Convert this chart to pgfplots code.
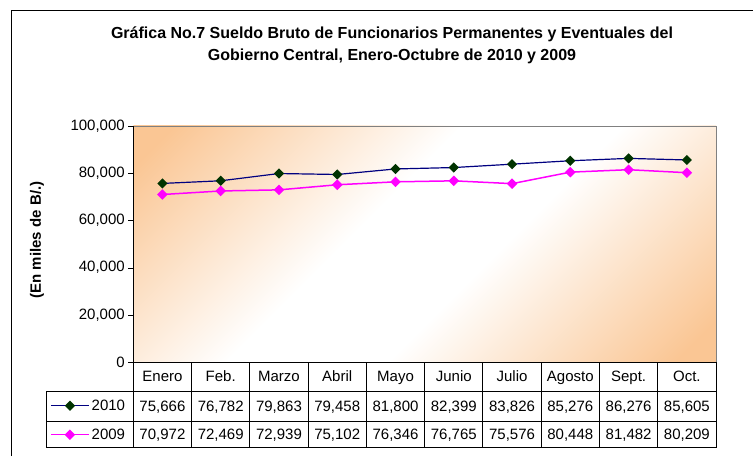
\documentclass[border=0pt]{standalone}
\usepackage{pgfplots}
\pgfplotsset{compat=1.18}
\usepackage{fontspec}
\setmainfont{Liberation Sans}
\definecolor{orng}{RGB}{250,198,148}
\definecolor{navyline}{RGB}{0,0,128}
\definecolor{dkgreen}{RGB}{0,51,0}
\definecolor{mag}{RGB}{255,0,255}
\pgfdeclareverticalshading{plotbg}{100bp}{color(0bp)=(orng); color(18bp)=(orng); color(43bp)=(white); color(57bp)=(white); color(82bp)=(orng); color(100bp)=(orng)}
\begin{document}
\begin{tikzpicture}
\useasboundingbox (0pt,0pt) rectangle (753pt,456pt);
\begin{axis}[
  at={(133.3pt,94pt)}, anchor=south west, scale only axis,
  width=582.7pt, height=236pt,
  xmin=-0.5, xmax=9.5, ymin=0, ymax=100000,
  xtick=\empty,
  ytick={0,20000,40000,60000,80000,100000},
  ytick pos=left,
  scaled y ticks=false,
  yticklabel style={/pgf/number format/.cd, fixed, 1000 sep={,}, assume math mode=true},
  tick label style={font=\fontsize{15}{18}\selectfont},
  tick align=outside, major tick length=5pt,
  tick style={black},
  axis line style={black!50},
  axis background/.style={shading=plotbg, shading angle=45},
  extra description/.code={\draw[black, line width=0.8pt] (rel axis cs:0,0) -- (rel axis cs:0,1);},
  clip=false,
  legend image code/.code={\draw[#1, mark repeat=2, mark phase=2] plot coordinates {(0pt,0pt) (19pt,0pt) (38pt,0pt)};},
  legend style={at={(axis description cs:-0.143,-0.2468)}, anchor=west, draw=none, fill=none,
    inner sep=0pt, row sep=17pt, column sep=2pt, font=\fontsize{15}{18}\selectfont,
    nodes={inner sep=0pt}},
  legend cell align=left,
]
\addplot[navyline, line width=1.2pt, mark=square*, mark size=3pt, mark options={rotate=45, fill=dkgreen, draw=dkgreen}]
  coordinates {(0,75666) (1,76782) (2,79863) (3,79458) (4,81800) (5,82399) (6,83826) (7,85276) (8,86276) (9,85605)};
\addlegendentry{2010}
\addplot[mag, line width=1.5pt, mark=square*, mark size=3pt, mark options={rotate=45, fill=mag, draw=mag}]
  coordinates {(0,70972) (1,72469) (2,72939) (3,75102) (4,76346) (5,76765) (6,75576) (7,80448) (8,81482) (9,80209)};
\addlegendentry{2009}
\end{axis}
\begin{scope}[x=1pt,y=1pt]
\draw[black, line width=1pt] (11,0) -- (11,445) -- (753,445);
\node[font=\fontsize{16}{22}\selectfont\bfseries, align=center] at (392,411)
  {Gráfica No.7 Sueldo Bruto de Funcionarios Permanentes y Eventuales del\\Gobierno Central, Enero-Octubre de 2010 y 2009};
\node[rotate=90, font=\fontsize{15}{18}\selectfont\bfseries] at (37,216) {(En miles de B/.)};
% data table
\def\xl{133.3}\def\cw{58.27}
\draw[black, line width=0.9pt] (\xl,94) -- (716,94);
\draw[black, line width=0.9pt] (\xl,94) -- (\xl,65) (46,65) -- (716,65) (46,35) -- (716,35) (46,8.3) -- (716,8.3);
\draw[black, line width=0.9pt] (46,65) -- (46,8.3);
\foreach \i in {0,...,10} {\draw[black, line width=0.9pt] (\xl+\cw*\i,94) -- (\xl+\cw*\i,8.3);}
\foreach \c [count=\i from 0] in {Enero,Feb.,Marzo,Abril,Mayo,Junio,Julio,Agosto,Sept.,Oct.}
  {\node[anchor=base, inner sep=0pt, font=\fontsize{15}{18}\selectfont] at (\xl+\cw*\i+\cw/2,74.3) {\c};}
\foreach \v [count=\i from 0] in {75666,76782,79863,79458,81800,82399,83826,85276,86276,85605}
  {\node[anchor=base, inner sep=0pt, font=\fontsize{15}{18}\selectfont] at (\xl+\cw*\i+\cw/2,44.7) {\pgfmathprintnumber[fixed, 1000 sep={,}, assume math mode=true]{\v}};}
\foreach \v [count=\i from 0] in {70972,72469,72939,75102,76346,76765,75576,80448,81482,80209}
  {\node[anchor=base, inner sep=0pt, font=\fontsize{15}{18}\selectfont] at (\xl+\cw*\i+\cw/2,16.2) {\pgfmathprintnumber[fixed, 1000 sep={,}, assume math mode=true]{\v}};}
\end{scope}
\end{tikzpicture}
\end{document}
